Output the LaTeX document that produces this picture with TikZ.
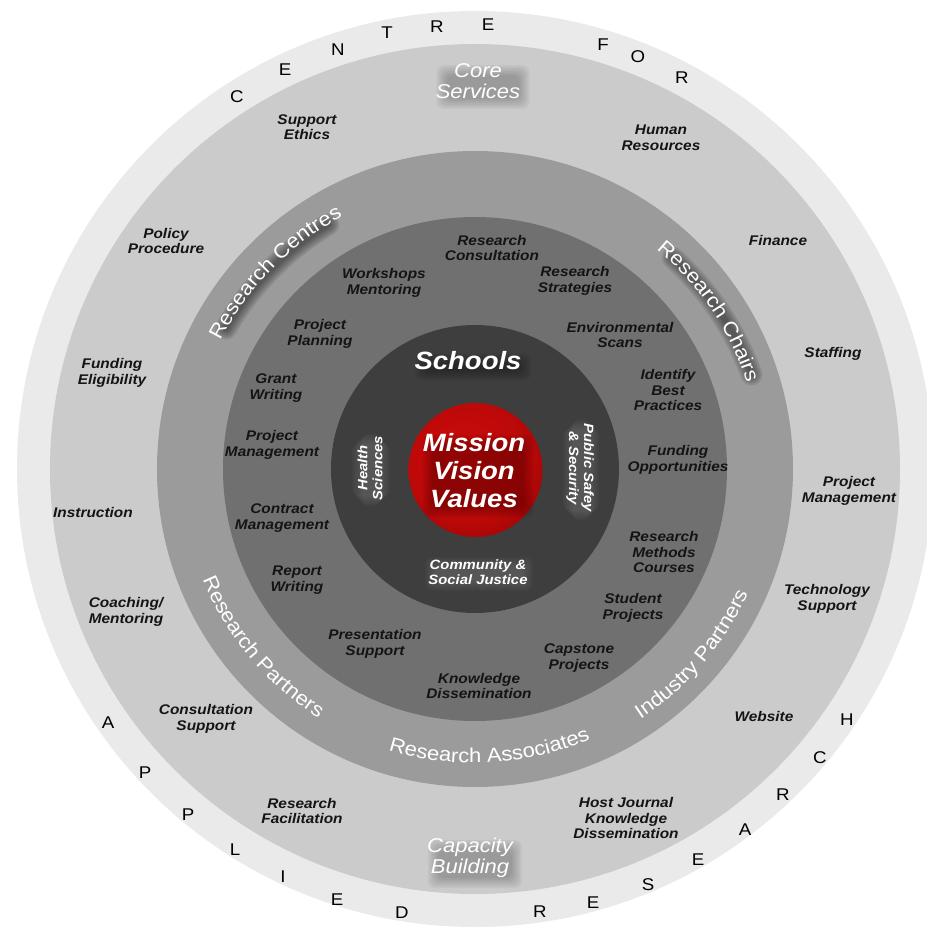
\documentclass[tikz,border=0pt]{standalone}
\usepackage{fontspec}
\setmainfont{Liberation Sans}[FakeStretch=1.1]
\usetikzlibrary{decorations.text}
\pgfdeclarelayer{shad}
\pgfdeclarelayer{txt}
\pgfsetlayers{main,shad,txt}
\definecolor{ringA}{RGB}{234,234,234}
\definecolor{ringB}{RGB}{203,203,203}
\definecolor{ringC}{RGB}{155,155,155}
\definecolor{ringD}{RGB}{112,112,112}
\definecolor{ringE}{RGB}{62,62,62}
\definecolor{redA}{RGB}{205,10,10}
\definecolor{redB}{RGB}{120,0,0}
\definecolor{inkc}{RGB}{20,20,20}
\definecolor{glow}{RGB}{150,150,150}
\pgfdeclareradialshading{redglow}{\pgfpoint{-6bp}{6bp}}{color(0bp)=(redA); color(22bp)=(redA!92!black); color(44bp)=(redB); color(50bp)=(redB)}
\newcommand{\lblfont}{\bfseries\itshape\fontsize{14}{15.5}\selectfont}
\newcommand{\arcfont}{\mdseries\upshape\fontsize{20}{24}\selectfont}
% white label with a soft box shadow: name, position, style, text, shadow colour, dx, dy, opacity
\newcommand{\wlabel}[8]{%
  \begin{pgfonlayer}{txt}
    \node[#3, text=white] (#1) at (#2) {#4};
  \end{pgfonlayer}
  \begin{pgfonlayer}{shad}
    \foreach \g in {-6,-4,-2,0,2,4}{%
      \fill[#5, opacity=#8, rounded corners=7pt]
        ([xshift={#6-\g}, yshift={#7-\g}]#1.south west) rectangle ([xshift={#6+\g}, yshift={#7+\g}]#1.north east);}
  \end{pgfonlayer}}
% curved white text: start, end, radius, text
\newcommand{\arctext}[4]{%
  \begin{pgfonlayer}{txt}
  \path[decorate, decoration={text along path, text={|\arcfont|#4}, text align=center, text color=white}] (#1:#3) arc[start angle=#1, end angle=#2, radius=#3];
  \end{pgfonlayer}}
% arc shadow: start, end, radius
\newcommand{\arcshadow}[3]{%
  \begin{pgfonlayer}{shad}
  \foreach \w in {6,10,14,18,22}{%
    \draw[black, opacity=0.1, line width=\w, line cap=round, xshift=3, yshift=-5] (#1:#3) arc[start angle=#1, end angle=#2, radius=#3];}
  \end{pgfonlayer}}
\begin{document}
\begin{tikzpicture}[x=1pt,y=1pt,
  lbl/.style={font=\lblfont, align=center, text=inkc, inner sep=0pt},
  letr/.style={font=\fontsize{17}{17}\selectfont, text=black, inner sep=0pt},
  wsec/.style={font=\itshape\fontsize{20}{21}\selectfont, align=center, inner sep=0pt},
  wbig/.style={font=\bfseries\itshape\fontsize{25}{28}\selectfont, align=center, inner sep=0pt},
  wsmall/.style={font=\bfseries\itshape\fontsize{13.5}{15}\selectfont, align=center, inner sep=0pt}]
\useasboundingbox (-475,-461) rectangle (452,469);
\fill[white] (-475,-461) rectangle (452,469);
% rings
\fill[ringA] (0,0) circle[radius=458];
\fill[ringB] (0,0) circle[radius=425];
\fill[ringC] (0,0) circle[radius=318];
\fill[ringD] (0,0) circle[radius=252];
\fill[ringE] (0,0) circle[radius=144];
\shade[shading=redglow] (0.5,-1) circle[radius=67];
% outer letters
\node[letr] (l1) at (-238,372) {C};
\node[letr] (l2) at (-190,399) {E};
\node[letr] (l3) at (-137,419) {N};
\node[letr] (l4) at (-88,436) {T};
\node[letr] (l5) at (-38,442) {R};
\node[letr] (l6) at (13,444) {E};
\node[letr] (l7) at (128,424) {F};
\node[letr] (l8) at (163,412) {O};
\node[letr] (l9) at (207,391) {R};
\node[letr] (m1) at (-367,-254) {A};
\node[letr] (m2) at (-330,-304) {P};
\node[letr] (m3) at (-287,-346) {P};
\node[letr] (m4) at (-240,-381) {L};
\node[letr] (m5) at (-192,-408) {I};
\node[letr] (m6) at (-138,-431) {E};
\node[letr] (m7) at (-73,-444) {D};
\node[letr] (n1) at (65,-443) {R};
\node[letr] (n2) at (118,-434) {E};
\node[letr] (n3) at (173,-416) {S};
\node[letr] (n4) at (223,-391) {E};
\node[letr] (n5) at (270,-361) {A};
\node[letr] (n6) at (308,-326) {R};
\node[letr] (n7) at (345,-289) {C};
\node[letr] (n8) at (372,-251) {H};
% outer ring labels
\node[lbl] (o1) at (-168,342) {Support\\Ethics};
\node[lbl] (o2) at (186,331) {Human\\Resources};
\node[lbl] (o3) at (-309,228) {Policy\\Procedure};
\node[lbl] (o4) at (303,229) {Finance};
\node[lbl] (o5) at (-363,96) {Funding\\Eligibility};
\node[lbl] (o6) at (358,115) {Staffing};
\node[lbl] (o7) at (-382,-43) {Instruction};
\node[lbl] (o8) at (374,-22) {Project\\Management};
\node[lbl] (o9) at (-349,-143) {Coaching/\\Mentoring};
\node[lbl] (o10) at (352,-130) {Technology\\Support};
\node[lbl] (o11) at (-269,-250) {Consultation\\Support};
\node[lbl] (o12) at (289,-247) {Website};
\node[lbl] (o13) at (-173,-342) {Research\\Facilitation};
\node[lbl] (o14) at (151,-349) {Host Journal\\Knowledge\\Dissemination};
% inner ring labels
\node[lbl] (i1) at (17,221) {Research\\Consultation};
\node[lbl] (i2) at (-91,186) {Workshops\\Mentoring};
\node[lbl] (i3) at (100,188) {Research\\Strategies};
\node[lbl] (i4) at (-155,135) {Project\\Planning};
\node[lbl] (i5) at (145,134) {Environmental\\Scans};
\node[lbl] (i6) at (-199,81) {Grant\\Writing};
\node[lbl] (i7) at (193,79) {Identify\\Best\\Practices};
\node[lbl] (i8) at (-203,24) {Project\\Management};
\node[lbl] (i9) at (203,9) {Funding\\Opportunities};
\node[lbl] (i10) at (-193,-49) {Contract\\Management};
\node[lbl] (i11) at (189,-83) {Research\\Methods\\Courses};
\node[lbl] (i12) at (-178,-111) {Report\\Writing};
\node[lbl] (i13) at (158,-139) {Student\\Projects};
\node[lbl] (i14) at (-100,-175) {Presentation\\Support};
\node[lbl] (i15) at (104,-189) {Capstone\\Projects};
\node[lbl] (i16) at (4,-217) {Knowledge\\Dissemination};
% white labels
\wlabel{core}{3,388}{wsec}{Core\\Services}{black}{5}{-6}{0.045}
\wlabel{capacity}{-5,-389}{wsec}{Capacity\\Building}{black}{5}{-6}{0.045}
\wlabel{schools}{-7,108}{wbig}{Schools}{black}{5}{-6}{0.06}
\wlabel{mission}{-1,-2}{wbig}{Mission\\Vision\\Values}{black}{4}{-5}{0.05}
\wlabel{health}{-105,1}{wsmall, rotate=90}{Health\\Sciences}{glow}{1}{-2}{0.06}
\wlabel{public}{105,1}{wsmall, rotate=-90}{Public Safey\\\& Security}{glow}{1}{-2}{0.06}
\wlabel{community}{3,-103}{wsmall}{Community \&\\Social Justice}{glow}{1}{-2}{0.06}
% curved labels
\arcshadow{150}{121}{291}
\arcshadow{48}{20}{291}
\arctext{170.5}{100.5}{285}{Research Centres}
\arctext{69}{-1}{285}{Research Chairs}
\arctext{185}{255}{294}{Research Partners}
\arctext{238}{308}{294}{Research Associates}
\arctext{284.5}{354.5}{300}{Industry Partners}
\end{tikzpicture}
\end{document}
